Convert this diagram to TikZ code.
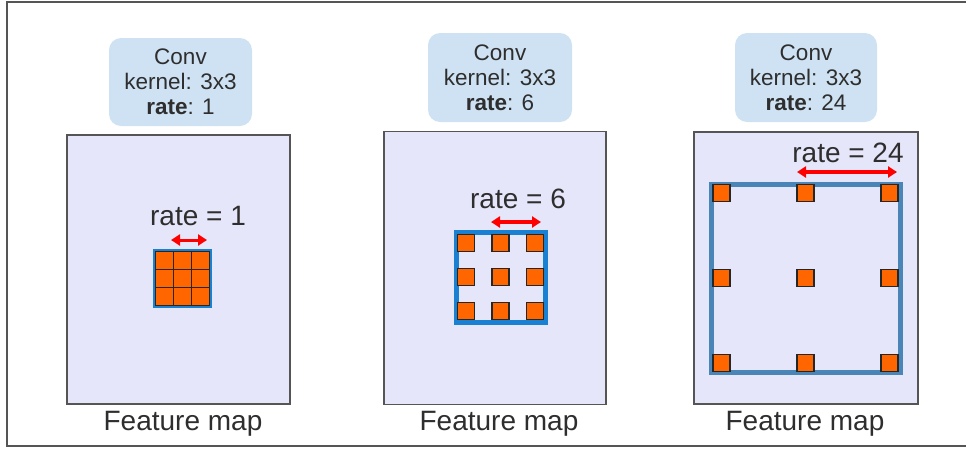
\documentclass[tikz,border=0pt]{standalone}
\usepackage{fontspec}
\setmainfont{Liberation Sans}
\usetikzlibrary{arrows.meta}
\definecolor{panelfill}{HTML}{E6E6FB}
\definecolor{convfill}{HTML}{CFE2F3}
\definecolor{kern}{HTML}{FF6600}
\definecolor{blueA}{HTML}{1A80D2}
\definecolor{blueB}{HTML}{4A85B8}
\definecolor{txt}{HTML}{2E2E2E}
\definecolor{framecol}{HTML}{555555}
\begin{document}
\begin{tikzpicture}[x=1pt,y=-1pt,
  panel/.style={draw=framecol, line width=1.5pt, fill=panelfill, inner sep=0pt, outer sep=0pt},
  convbox/.style={fill=convfill, rounded corners=12pt, align=center, text=txt, inner sep=0pt,
    font=\fontsize{22.5}{25}\selectfont},
  bigtext/.style={text=txt, inner sep=0pt, anchor=base, font=\fontsize{28}{32}\selectfont},
  cell/.style={draw=black!85, fill=kern, line width=1.2pt, minimum size=17pt, inner sep=0pt, outer sep=0pt},
  gridcell/.style={draw=black!85, fill=kern, line width=1.2pt, minimum size=18pt, inner sep=0pt, outer sep=0pt},
  kbox/.style={line width=#1, inner sep=0pt, outer sep=0pt},
  ratearrow/.style={draw=red, line width=#1, {Triangle[length=9pt,width=11pt]}-{Triangle[length=9pt,width=11pt]}}
]
\useasboundingbox (0,0) rectangle (966,448);
% outer frame
\begin{scope}
\clip (0,0) rectangle (966,448);
\draw[framecol, line width=1.5pt] (7,2) rectangle (975,446);
\end{scope}

% panels
\node[panel, minimum width=223pt, minimum height=269pt] (p1) at (178.5,269.5) {};
\node[panel, minimum width=222pt, minimum height=273pt] (p2) at (495,268) {};
\node[panel, minimum width=224pt, minimum height=272pt] (p3) at (806,268) {};

% conv boxes
\node[convbox, minimum width=143pt, minimum height=88pt] (c1) at (180.5,82) {Conv\\kernel: 3x3\\\textbf{rate}: 1};
\node[convbox, minimum width=144pt, minimum height=89pt] (c2) at (500,77.5) {Conv\\kernel: 3x3\\\textbf{rate}: 6};
\node[convbox, minimum width=142pt, minimum height=89pt] (c3) at (806,77.5) {Conv\\kernel: 3x3\\\textbf{rate}: 24};

% feature map labels
\node[bigtext] (f1) at (183,430) {Feature map};
\node[bigtext] (f2) at (499,430) {Feature map};
\node[bigtext] (f3) at (805,430) {Feature map};

% panel 1 kernel
\node[kbox=2.5pt, draw=blueA, minimum size=57pt] (k1) at (182.5,278.5) {};
\foreach \i/\dx in {1/-18,2/0,3/18}{
  \foreach \j/\dy in {1/-18,2/0,3/18}{
    \node[gridcell] (a\i\j) at (182.5+\dx,278.5+\dy) {};
  }
}
\node[bigtext] (r1) at (198,225) {rate = 1};
\coordinate (r1a) at (171,240);
\coordinate (r1b) at (207,240);
\draw[ratearrow=3pt] (r1a) -- (r1b);

% panel 2 kernel
\node[kbox=5pt, draw=blueA, minimum width=89pt, minimum height=90pt] (k2) at (500.5,277) {};
\foreach \i/\dx in {1/-34.5,2/0,3/34.5}{
  \foreach \j/\dy in {1/-34,2/0,3/34}{
    \node[cell] (b\i\j) at (500.5+\dx,277+\dy) {};
  }
}
\node[bigtext] (r2) at (518,208) {rate = 6};
\coordinate (r2a) at (491,222);
\coordinate (r2b) at (541,222);
\draw[ratearrow=3.5pt] (r2a) -- (r2b);

% panel 3 kernel
\node[kbox=5pt, draw=blueB, minimum width=189pt, minimum height=188pt] (k3) at (805.5,278) {};
\foreach \i/\dx in {1/-84,2/0,3/84}{
  \foreach \j/\dy in {1/-85,2/0,3/85}{
    \node[cell] (d\i\j) at (805.5+\dx,278+\dy) {};
  }
}
\node[bigtext] (r3) at (848,162) {rate = 24};
\coordinate (r3a) at (797,172);
\coordinate (r3b) at (897,172);
\draw[ratearrow=4pt] (r3a) -- (r3b);
\end{tikzpicture}
\end{document}
